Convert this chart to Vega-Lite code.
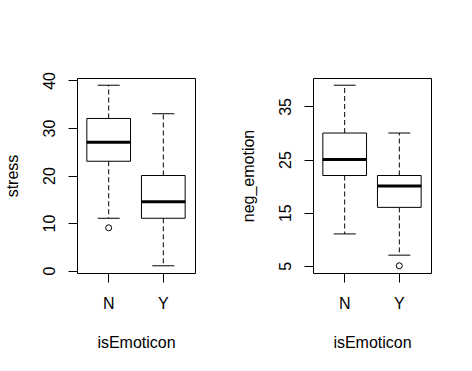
{
  "$schema": "https://vega.github.io/schema/vega-lite/v6.json",
  "autosize": {"type": "pad"},
  "padding": {"left": 4, "top": 71, "right": 40, "bottom": 21},
  "background": "white",
  "bounds": "flush",
  "spacing": 118,
  "config": {
    "view": {"stroke": "black", "strokeWidth": 1},
    "font": "Liberation Sans",
    "axis": {
      "domain": false, "grid": false,
      "tickColor": "black", "tickSize": 9, "tickWidth": 1,
      "labelColor": "black", "labelFont": "Liberation Sans", "labelFontSize": 16,
      "titleFont": "Liberation Sans", "titleFontSize": 16, "titleFontWeight": "normal", "titleColor": "black"
    },
    "axisY": {"labelAngle": -90, "labelAlign": "center", "labelBaseline": "alphabetic", "labelPadding": 13.5,
              "titleAngle": -90, "titleAlign": "center", "titleBaseline": "alphabetic", "titleX": -59.5, "titleY": 97.5},
    "axisX": {"labelAngle": 0, "labelBaseline": "alphabetic", "labelPadding": 26,
              "titleBaseline": "alphabetic", "titleY": 74}
  },
  "hconcat": [
    {
      "width": 118, "height": 195,
      "data": {"values": [
        {"isEmoticon": "N", "lower": 11, "q1": 23, "median": 27, "q3": 32, "upper": 39},
        {"isEmoticon": "Y", "lower": 1, "q1": 11, "median": 14.5, "q3": 20, "upper": 33}
      ]},
      "encoding": {
        "x": {"field": "isEmoticon", "type": "nominal", "title": "isEmoticon",
              "scale": {"paddingInner": 0.2, "paddingOuter": 0.18}}
      },
      "layer": [
        {"mark": {"type": "rule", "strokeDash": [5, 3], "color": "black"},
         "encoding": {"y": {"field": "q3", "type": "quantitative", "title": "stress",
                            "scale": {"domain": [-0.52, 40.52], "nice": false, "zero": false},
                            "axis": {"values": [0, 10, 20, 30, 40]}},
                      "y2": {"field": "upper"}}},
        {"mark": {"type": "rule", "strokeDash": [5, 3], "color": "black"},
         "encoding": {"y": {"field": "q1", "type": "quantitative", "title": "stress"}, "y2": {"field": "lower"}}},
        {"mark": {"type": "tick", "size": 22, "thickness": 1, "color": "black", "opacity": 1},
         "encoding": {"y": {"field": "upper", "type": "quantitative", "title": "stress"}}},
        {"mark": {"type": "tick", "size": 22, "thickness": 1, "color": "black", "opacity": 1},
         "encoding": {"y": {"field": "lower", "type": "quantitative", "title": "stress"}}},
        {"mark": {"type": "bar", "fill": "white", "stroke": "black", "strokeWidth": 1},
         "encoding": {"y": {"field": "q1", "type": "quantitative", "title": "stress"}, "y2": {"field": "q3"}}},
        {"mark": {"type": "tick", "size": 44, "thickness": 3, "color": "black", "opacity": 1},
         "encoding": {"y": {"field": "median", "type": "quantitative", "title": "stress"}}},
        {"data": {"values": [{"isEmoticon": "N", "value": 9}]},
         "mark": {"type": "point", "shape": "circle", "filled": false, "size": 36, "color": "black", "strokeWidth": 1, "opacity": 1},
         "encoding": {"y": {"field": "value", "type": "quantitative", "title": "stress"}}}
      ]
    },
    {
      "width": 118, "height": 195,
      "data": {"values": [
        {"isEmoticon": "N", "lower": 11, "q1": 22, "median": 25, "q3": 30, "upper": 39},
        {"isEmoticon": "Y", "lower": 7, "q1": 16, "median": 20, "q3": 22, "upper": 30}
      ]},
      "encoding": {
        "x": {"field": "isEmoticon", "type": "nominal", "title": "isEmoticon",
              "scale": {"paddingInner": 0.2, "paddingOuter": 0.18}}
      },
      "layer": [
        {"mark": {"type": "rule", "strokeDash": [5, 3], "color": "black"},
         "encoding": {"y": {"field": "q3", "type": "quantitative", "title": "neg_emotion",
                            "scale": {"domain": [3.64, 40.36], "nice": false, "zero": false},
                            "axis": {"values": [5, 10, 15, 20, 25, 30, 35, 40],
                                     "labelExpr": "datum.value % 10 == 5 ? datum.label : ''"}},
                      "y2": {"field": "upper"}}},
        {"mark": {"type": "rule", "strokeDash": [5, 3], "color": "black"},
         "encoding": {"y": {"field": "q1", "type": "quantitative", "title": "neg_emotion"}, "y2": {"field": "lower"}}},
        {"mark": {"type": "tick", "size": 22, "thickness": 1, "color": "black", "opacity": 1},
         "encoding": {"y": {"field": "upper", "type": "quantitative", "title": "neg_emotion"}}},
        {"mark": {"type": "tick", "size": 22, "thickness": 1, "color": "black", "opacity": 1},
         "encoding": {"y": {"field": "lower", "type": "quantitative", "title": "neg_emotion"}}},
        {"mark": {"type": "bar", "fill": "white", "stroke": "black", "strokeWidth": 1},
         "encoding": {"y": {"field": "q1", "type": "quantitative", "title": "neg_emotion"}, "y2": {"field": "q3"}}},
        {"mark": {"type": "tick", "size": 44, "thickness": 3, "color": "black", "opacity": 1},
         "encoding": {"y": {"field": "median", "type": "quantitative", "title": "neg_emotion"}}},
        {"data": {"values": [{"isEmoticon": "Y", "value": 5}]},
         "mark": {"type": "point", "shape": "circle", "filled": false, "size": 36, "color": "black", "strokeWidth": 1, "opacity": 1},
         "encoding": {"y": {"field": "value", "type": "quantitative", "title": "neg_emotion"}}}
      ]
    }
  ]
}
